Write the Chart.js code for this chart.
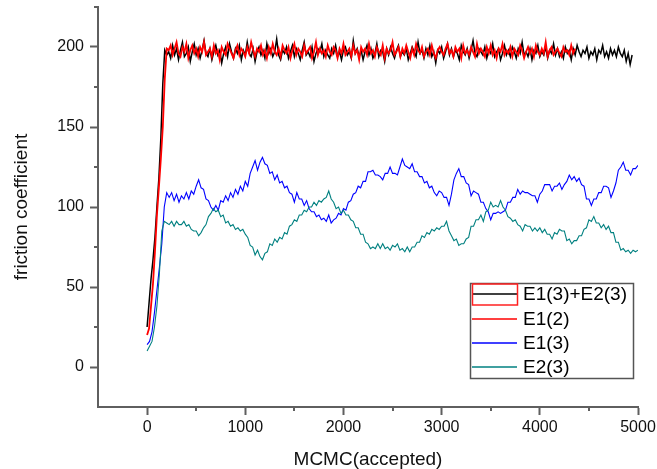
<!DOCTYPE html>
<html><head><meta charset="utf-8">
<script src="https://cdn.jsdelivr.net/npm/chart.js@4.4.0/dist/chart.umd.min.js"></script>
<style>html,body{margin:0;padding:0;background:#fff;}canvas{display:block;}</style>
</head><body>
<canvas id="c" width="657" height="469"></canvas>
<script>
// ---- data ----
const seriesNames = ['E1(3)+E2(3)', 'E1(2)', 'E1(3)', 'E2(3)'];
const sumStep = 20;   // sampling interval (accepted steps) of the black and red traces
const partStep = 25;  // sampling interval of the blue and teal traces
const xTicks = [0, 1000, 2000, 3000, 4000, 5000];
const yTicks = [0, 50, 100, 150, 200];
const xMinorTicks = [500, 1500, 2500, 3500, 4500];
const yMinorTicks = [25, 75, 125, 175, 225];

// E1(3)+E2(3) (black)
const sumValues = [25,40,55,67,81,100,118,143,177,198,195,
197,193,201,195,199,192,198,203,194,196,200,191,197,202,195,199,193,198,204,196,
194,199,192,197,201,195,198,190,196,200,194,202,197,193,199,196,201,192,198,195,
203,196,194,199,191,197,200,195,198,193,202,196,199,194,197,205,195,192,198,196,
200,193,197,201,194,199,196,192,198,203,195,197,194,200,191,196,199,197,202,194,
198,195,193,199,196,201,194,197,192,198,200,195,197,193,204,196,199,194,198,192,
197,201,195,199,193,196,202,194,198,197,191,199,195,200,196,193,198,201,194,197,
195,199,192,196,200,197,194,203,196,198,193,199,195,201,194,197,190,198,196,200,
193,197,202,195,199,194,198,196,192,201,197,195,199,193,198,204,196,194,199,197,
195,200,193,198,196,202,194,197,199,192,196,201,195,198,194,200,197,193,199,196,
203,195,197,194,199,192,198,196,201,194,197,195,200,193,198,196,202,195,199,194,
197,193,200,196,198,192,199,195,201,197,194,198,196,200,193,197,195,199,192,198,
196,201,194,197,193,199,195,198,194,200,196,194,198,191,196,189,195];

// E1(2) (red)
const e12Values = [20,24,38,52,72,95,112,130,150,180,199,
198,201,195,199,203,196,194,200,197,202,193,198,201,196,199,194,200,197,203,195,
197,199,194,201,196,198,192,200,197,195,202,199,196,193,198,201,195,199,197,194,
200,196,203,198,194,199,197,201,195,198,193,200,196,202,197,195,199,194,201,198,
196,200,193,198,202,195,199,197,194,201,196,198,200,193,197,203,195,199,196,198,
194,201,197,195,200,198,193,199,196,202,195,197,199,194,201,196,198,192,200,197,
199,195,202,196,198,194,200,197,195,201,193,199,196,198,203,195,197,200,194,199,
196,201,197,193,199,195,202,198,196,200,194,197,199,195,201,196,193,198,200,197,
195,199,202,196,198,194,200,197,199,193,201,196,198,195,200,197,194,202,196,199,
197,194,200,196,201,195,198,193,199,197,202,195,198,196,200,194,199,197,195,201,
198,193,197,200,196,199,194,201,197,195,199,196,203,194,198,200,195,197,199,196,
194,200,197,198,195,201,196,199];

// E1(3) (blue)
const e13Values = [14,16,22,34,48,62,77,100,109,106,
109,104,108,103,107,105,109,105,110,108,
113,117,112,111,105,104,100,98,101,98,
104,103,107,104,109,106,111,108,113,110,
116,113,121,125,129,123,128,131,127,126,
121,122,117,120,115,116,112,113,109,108,
103,109,105,105,101,104,99,97,97,94,
95,92,93,91,95,90,92,93,96,95,
99,98,103,104,108,109,113,112,116,116,
122,122,123,120,120,119,117,121,121,125,
121,121,120,125,130,126,125,124,127,122,
122,119,119,115,116,112,113,109,107,110,
109,106,106,101,108,117,121,124,119,119,
115,114,107,110,109,108,103,103,99,97,
92,96,96,97,96,97,98,103,103,106,
106,111,108,110,109,109,108,107,107,103,
108,110,114,114,114,110,113,113,115,111,
114,116,120,117,119,116,118,114,113,105,
105,101,105,105,109,109,113,113,112,106,
110,115,123,125,128,123,123,120,124,124,
126];

// E2(3) (teal)
const e23Values = [10,13,16,25,38,58,85,91,90,89,
91,88,91,89,89,91,88,89,86,85,
85,82,84,87,89,94,96,99,97,98,
94,95,90,91,88,89,86,87,85,86,
83,81,76,75,70,73,69,67,71,72,
77,76,80,78,81,80,84,83,88,89,
92,91,95,95,98,97,100,100,103,101,
104,103,105,106,110,105,103,99,100,96,
98,95,95,92,91,87,87,83,83,78,
77,74,75,74,77,74,77,74,75,73,
76,75,77,73,74,72,75,72,75,75,
78,78,82,81,84,83,86,85,87,86,
88,88,91,85,82,79,80,76,77,77,
80,81,88,88,92,92,95,91,97,98,
103,100,101,100,104,100,98,94,93,91,
92,89,88,85,89,88,88,85,87,85,
87,84,86,83,83,80,84,83,86,85,
85,79,80,77,79,79,82,82,86,87,
92,91,94,90,90,87,89,86,88,84,
84,78,78,73,74,72,73,71,73,72,
73];

// ---- styling ----
const FONT = '"Liberation Sans", Arial, sans-serif';
const AXIS_COLOR = '#5f5f5f';
const lineColors = ['#000000', '#ff0000', '#0000ff', '#008080'];

function toPoints(values, step) { return values.map((v, i) => ({ x: i * step, y: v })); }

const datasets = [
  { label: seriesNames[0], data: toPoints(sumValues, sumStep), borderColor: lineColors[0], borderWidth: 1.5, order: 4 },
  { label: seriesNames[1], data: toPoints(e12Values, sumStep), borderColor: lineColors[1], borderWidth: 1.8, order: 3 },
  { label: seriesNames[2], data: toPoints(e13Values, partStep), borderColor: lineColors[2], borderWidth: 1.1, order: 2 },
  { label: seriesNames[3], data: toPoints(e23Values, partStep), borderColor: lineColors[3], borderWidth: 1.1, order: 1 }
].map(d => Object.assign(d, { pointRadius: 0, fill: false, tension: 0 }));

const decorPlugin = {
  id: 'decor',
  afterDraw(chart) {
    const { ctx, chartArea: ca, scales: { x, y } } = chart;
    ctx.save();
    // minor ticks
    ctx.strokeStyle = AXIS_COLOR; ctx.lineWidth = 2;
    ctx.beginPath();
    yMinorTicks.forEach(v => { const py = Math.round(y.getPixelForValue(v)); ctx.moveTo(ca.left - 4, py); ctx.lineTo(ca.left, py); });
    xMinorTicks.forEach(v => { const px = Math.round(x.getPixelForValue(v)); ctx.moveTo(px, ca.bottom); ctx.lineTo(px, ca.bottom + 4); });
    ctx.stroke();
    // legend box
    const bw = 163, bh = 95;
    const bx = ca.right - 168, by = ca.bottom - 124;
    ctx.lineWidth = 1.5; ctx.strokeStyle = '#555555';
    ctx.strokeRect(bx + 0.5, by + 0.5, bw, bh);
    const rows = [11, 36, 60, 84];
    ctx.font = '19px ' + FONT;
    ctx.textBaseline = 'middle'; ctx.textAlign = 'left';
    for (let i = 0; i < rows.length; i++) {
      const yy = Math.round(by + rows[i]);
      ctx.beginPath();
      ctx.strokeStyle = lineColors[i];
      ctx.lineWidth = 1.6;
      ctx.moveTo(bx + 2, yy); ctx.lineTo(bx + 47, yy);
      ctx.stroke();
      ctx.fillStyle = '#000000';
      ctx.fillText(seriesNames[i], bx + 53, yy + 1);
    }
    // selection frame around first sample
    ctx.beginPath();
    ctx.strokeStyle = '#ff2020'; ctx.lineWidth = 1.5;
    ctx.strokeRect(bx + 2.5, by + 1, 45, 21);
    ctx.restore();
  }
};

new Chart(document.getElementById('c').getContext('2d'), {
  type: 'line',
  data: { datasets },
  options: {
    responsive: false, animation: false, devicePixelRatio: 1,
    layout: { padding: { top: 7, right: 19, bottom: 0, left: 0 } },
    plugins: { legend: { display: false }, tooltip: { enabled: false } },
    scales: {
      x: {
        type: 'linear', min: -500, max: 5000,
        afterBuildTicks: a => { a.ticks = xTicks.map(v => ({ value: v })); },
        afterFit: s => { s.height = 62; s.paddingLeft = 0; s.paddingRight = 0; },
        grid: { drawOnChartArea: false, drawTicks: true, tickLength: 8, tickColor: AXIS_COLOR, tickWidth: 2 },
        border: { display: true, color: AXIS_COLOR, width: 2 },
        ticks: { color: '#111', font: { family: FONT, size: 16 }, padding: 3, maxRotation: 0, autoSkip: false, callback: v => String(v) },
        title: { display: true, text: 'MCMC(accepted)', color: '#111', font: { family: FONT, size: 19, lineHeight: 1 }, padding: { top: 0, bottom: 0 } }
      },
      y: {
        type: 'linear', min: -25, max: 225,
        afterBuildTicks: a => { a.ticks = yTicks.map(v => ({ value: v })); },
        afterFit: s => { s.width = 98; s.paddingTop = 0; s.paddingBottom = 0; },
        grid: { drawOnChartArea: false, drawTicks: true, tickLength: 8, tickColor: AXIS_COLOR, tickWidth: 2 },
        border: { display: true, color: AXIS_COLOR, width: 2 },
        ticks: { color: '#111', font: { family: FONT, size: 16 }, padding: 6, autoSkip: false, callback: v => String(v) },
        title: { display: true, text: 'friction coefficient', color: '#111', font: { family: FONT, size: 19 }, padding: { top: 10, bottom: 0 } }
      }
    }
  },
  plugins: [decorPlugin]
});
</script>
</body></html>
